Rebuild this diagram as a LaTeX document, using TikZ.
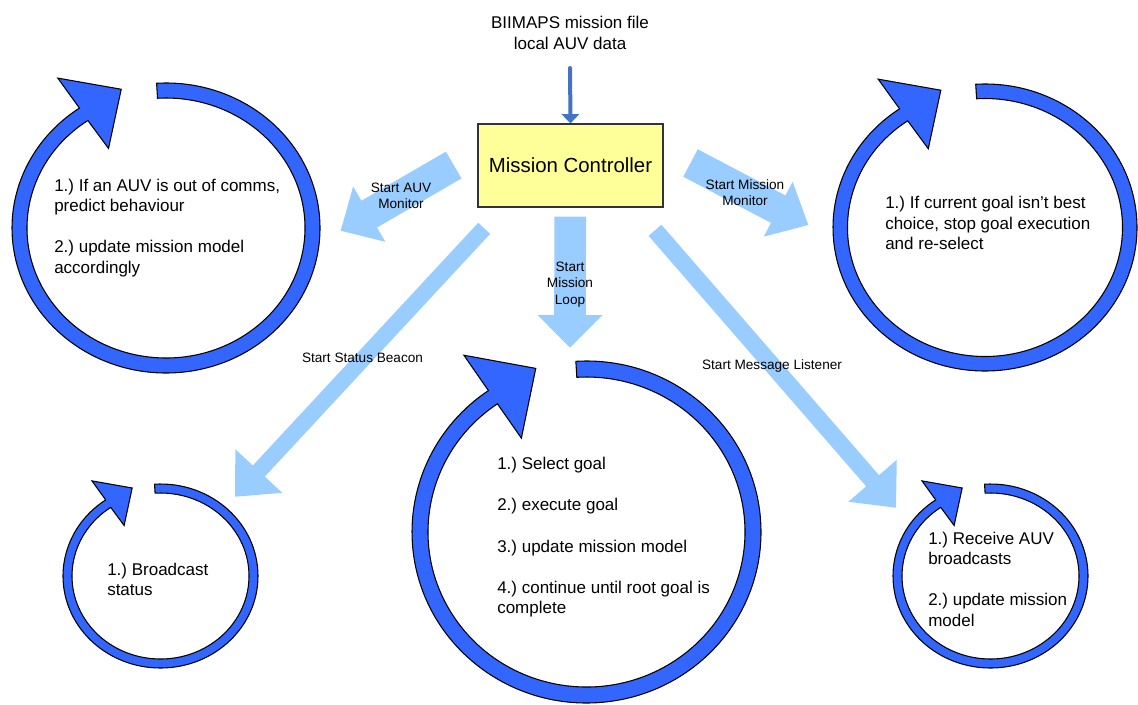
\documentclass[tikz,border=0pt]{standalone}
\usepackage{fontspec}
\setmainfont{Liberation Sans}
\usetikzlibrary{calc,arrows.meta}
\frenchspacing

\definecolor{ringblue}{RGB}{51,102,255}
\definecolor{flowblue}{RGB}{153,204,255}
\definecolor{feedblue}{RGB}{68,114,196}
\definecolor{mcyellow}{RGB}{255,255,153}
\definecolor{mcborder}{RGB}{51,51,51}

% Circular "loop" arrow: name, centre x, centre y, outer x radius, outer y radius, ring width (all in px)
\newcommand{\loopring}[6]{%
  \coordinate (#1) at (#2,#3);
  \pgfmathsetmacro\ria{#4-#6}%
  \pgfmathsetmacro\rib{#5-#6}%
  \filldraw[ringfill]
    ($(#1)+({#4*cos(266.5)},{#5*sin(266.5)})$)
      arc[start angle=266.5, end angle=595.8, x radius=#4, y radius=#5]
    -- ($(#1)+({1.25*#4*cos(235.8)},{1.25*#5*sin(235.8)})$)
    -- ($(#1)+({1.0*#4*cos(253.1)},{1.0*#5*sin(253.1)})$)
    -- ($(#1)+({0.664*#4*cos(235.8)},{0.664*#5*sin(235.8)})$)
    -- ($(#1)+({\ria*cos(235.8)},{\rib*sin(235.8)})$)
      arc[start angle=595.8, end angle=266.5, x radius=\ria, y radius=\rib]
    -- cycle;
}

% Wide flat block arrow: tail, tip, shaft width, head width, head length (px)
\newcommand{\blockarrow}[5]{%
  \pgfmathsetmacro\bs{0.375*#3}%
  \pgfmathsetmacro\bw{0.375*#4}%
  \pgfmathsetmacro\bl{0.75*#5}%
  \coordinate (bh) at ($(#2)!\bl pt!(#1)$);
  \fill[flowfill]
    ($(#1)!\bs pt!90:(#2)$) -- ($(bh)!\bs pt!90:(#2)$) -- ($(bh)!\bw pt!90:(#2)$)
    -- (#2)
    -- ($(bh)!\bw pt!-90:(#2)$) -- ($(bh)!\bs pt!-90:(#2)$) -- ($(#1)!\bs pt!-90:(#2)$)
    -- cycle;
}

\begin{document}
\begin{tikzpicture}[x=0.75pt,y=-0.75pt,
  ringfill/.style={fill=ringblue, draw=black, line width=0.8pt, line join=miter},
  flowfill/.style={fill=flowblue},
  feed/.style={draw=feedblue, line width=3pt, line cap=round,
    -{Triangle[length=7pt,width=13pt]}},
  mcbox/.style={draw=mcborder, fill=mcyellow, line width=0.9pt,
    minimum width=138.75pt, minimum height=62.25pt, inner sep=0pt,
    font=\fontsize{15.3pt}{18pt}\selectfont},
  ringtext/.style={anchor=north west, inner sep=0pt, align=left,
    font=\fontsize{12.75pt}{15.4pt}\selectfont},
  smalllabel/.style={anchor=north, inner sep=0pt, align=center,
    font=\fontsize{10.2pt}{12.2pt}\selectfont},
  inputtext/.style={anchor=north, inner sep=0pt, align=center,
    font=\fontsize{12.75pt}{15.75pt}\selectfont}]

\useasboundingbox (0,0) rectangle (1138,704);

% central controller and its input
\node[inputtext] (src) at (570,16) {BIIMAPS mission file\\local AUV data};
\node[mcbox] (mc) at (570.5,165.5) {Mission Controller};
\coordinate (feedstart) at (570,68);
\draw[feed] (feedstart) -- (mc.north);

% launch arrows from the controller
\coordinate (auvTail) at (453.7,165);
\coordinate (auvTip) at (340.7,230.7);
\coordinate (monTail) at (690.5,163);
\coordinate (monTip) at (808.3,225);
\coordinate (loopTail) at (570.2,216.7);
\coordinate (loopTip) at (570,347.7);
\coordinate (beaconTail) at (484.2,228.3);
\coordinate (beaconTip) at (235,496.7);
\coordinate (listenTail) at (655,230.3);
\coordinate (listenTip) at (896,507.7);

\blockarrow{auvTail}{auvTip}{31}{64}{33}
\blockarrow{monTail}{monTip}{31}{62}{34}
\blockarrow{loopTail}{loopTip}{31.7}{65}{32.7}
\blockarrow{beaconTail}{beaconTip}{16.3}{64}{35}
\blockarrow{listenTail}{listenTip}{17}{64}{35.7}

\node[smalllabel] (lblAuv) at (401,182.5) {Start AUV\\Monitor};
\node[smalllabel] (lblMon) at (745,179.3) {Start Mission\\Monitor};
\node[smalllabel] (lblLoop) at (570,261.7) {Start\\Mission\\Loop};
\node[smalllabel] (lblBeacon) at (362.5,352.7) {Start Status Beacon};
\node[smalllabel] (lblListen) at (772,359.3) {Start Message Listener};

% the five concurrent loops
\loopring{auvLoop}{166}{228}{154}{145}{15}
\loopring{monLoop}{985}{227.5}{152}{143.5}{14.5}
\loopring{mainLoop}{586.5}{532}{174.5}{171}{16}
\loopring{beaconLoop}{160.5}{576}{97.5}{92}{9}
\loopring{listenLoop}{990.5}{576}{97.5}{92}{9}

\node[ringtext] (auvText) at (54,178.5)
  {1.) If an AUV is out of comms,\\predict behaviour\\[15.4pt]2.) update mission model\\accordingly};
\node[ringtext] (monText) at (885,196)
  {1.) If current goal isn’t best\\choice, stop goal execution\\and re-select};
\node[ringtext] (mainText) at (497,457.3)
  {1.) Select goal\\[15.4pt]2.) execute goal\\[15.4pt]3.) update mission model\\[15.4pt]4.) continue until root goal is\\complete};
\node[ringtext] (beaconText) at (107,562.7) {1.) Broadcast\\status};
\node[ringtext] (listenText) at (928,531.7)
  {1.) Receive AUV\\broadcasts\\[15.4pt]2.) update mission\\model};

\end{tikzpicture}
\end{document}
